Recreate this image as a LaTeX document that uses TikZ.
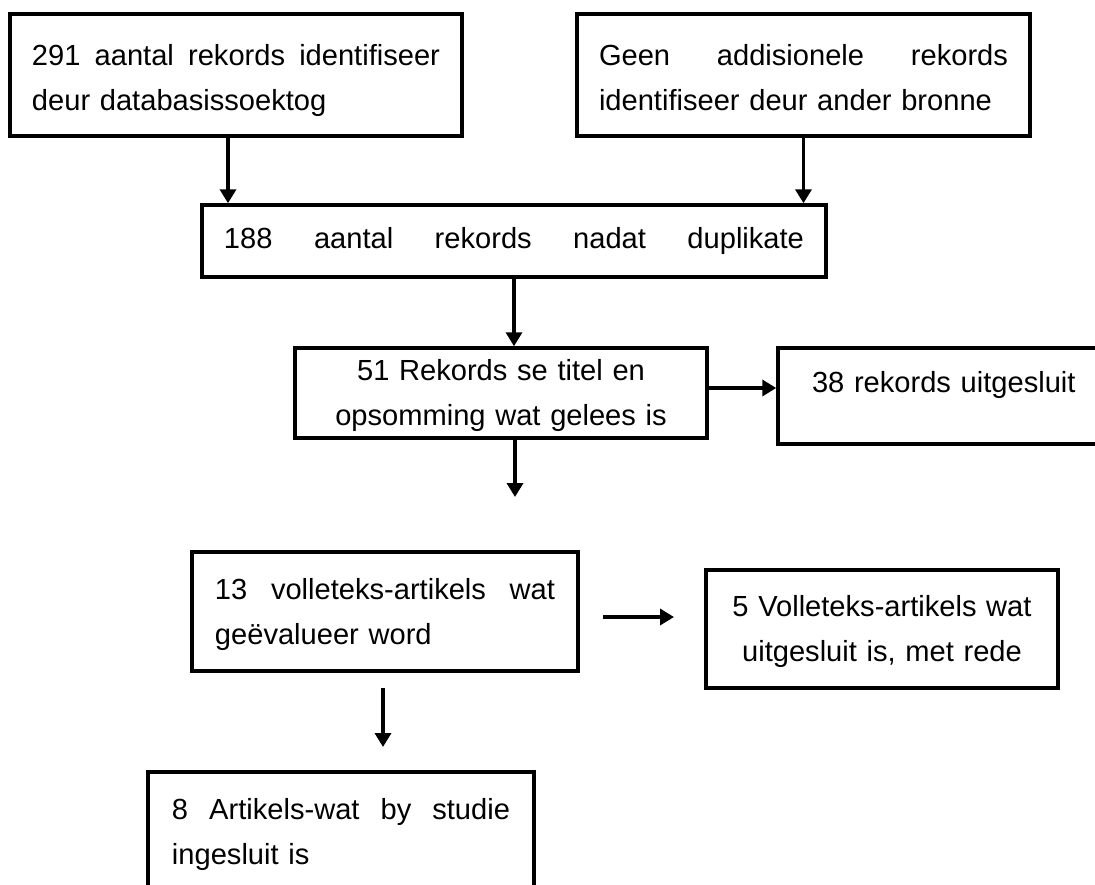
\documentclass[tikz,border=0pt]{standalone}
\usepackage{fontspec}
\setmainfont{Liberation Sans}
\usetikzlibrary{arrows.meta}
\newcommand\bxs{\rule[-0.25em]{0pt}{1.2em}}
\newcommand\bxt{\rule[-0.25em]{0pt}{1.4em}}
\tikzset{
  box/.style={draw=black, line width=3.5bp, rectangle, inner xsep=0pt, inner ysep=0pt,
    font={\fontsize{29.2}{45}\selectfont}},
  arr/.style={line width=3.5bp, -{Triangle[width=16bp,length=14bp]}}
}
\begin{document}
\begin{tikzpicture}[x=1bp,y=-1bp]
\useasboundingbox (0,0) rectangle (1095,885);
% boxes
\node[box, minimum width=452bp, minimum height=122bp, text width=408bp, align=left] (b1) at (236,75)
  {\hbox to 408bp{\bxt 291\hfill aantal\hfill rekords\hfill identifiseer}\\\bxs deur databasissoektog};
\node[box, minimum width=453bp, minimum height=122bp, text width=409bp, align=left] (b2) at (803.5,75)
  {\hbox to 409bp{\bxt Geen\hfill addisionele\hfill rekords}\\\bxs identifiseer deur ander bronne};
\node[box, minimum width=624bp, minimum height=72bp, text width=580bp, align=left] (b3) at (514,241)
  {\hbox to 580bp{188\hfill aantal\hfill rekords\hfill nadat\hfill duplikate}};
\node[box, minimum width=412bp, minimum height=90bp, text width=390bp, align=center] (b4) at (501,393)
  {\bxs 51 Rekords se titel en\\\bxs opsomming wat gelees is};
\node[box, minimum width=332bp, minimum height=96bp, text width=264bp, align=left,
  text height=22bp, text depth=29bp] (b5) at (944,396)
  {38 rekords uitgesluit};
\node[box, minimum width=386bp, minimum height=119bp, text width=340bp, align=left] (b6) at (385,611.5)
  {\hbox to 340bp{\bxs 13\hfill volleteks-artikels\hfill wat}\\\bxs geëvalueer word};
\node[box, minimum width=352bp, minimum height=118bp, text width=330bp, align=center] (b7) at (882,629)
  {\bxs 5 Volleteks-artikels wat\\\bxs uitgesluit is, met rede};
\node[box, minimum width=386bp, minimum height=119bp, text width=338bp, align=left] (b8) at (341,831.5)
  {\hbox to 338bp{\bxs 8\hfill Artikels-wat\hfill by\hfill studie}\\\bxs ingesluit is};
% free ends
\coordinate (e5) at (515,497);
\coordinate (s6) at (603,617);
\coordinate (e6) at (674,617);
\coordinate (s7) at (383,688);
\coordinate (e7) at (383,747);
% connectors
\draw[arr] ([xshift=-8bp]b1.south) -- ([xshift=-8bp]b1.south |- b3.north);
\draw[arr] (b2.south) -- (b2.south |- b3.north);
\draw[arr] (b3.south) -- (b3.south |- b4.north);
\draw[arr] ([yshift=5bp]b4.east) -- ([yshift=5bp]b4.east -| b5.west);
\draw[arr] (b4.south -| e5) -- (e5);
\draw[arr] (s6) -- (e6);
\draw[arr] (s7) -- (e7);
\end{tikzpicture}
\end{document}
